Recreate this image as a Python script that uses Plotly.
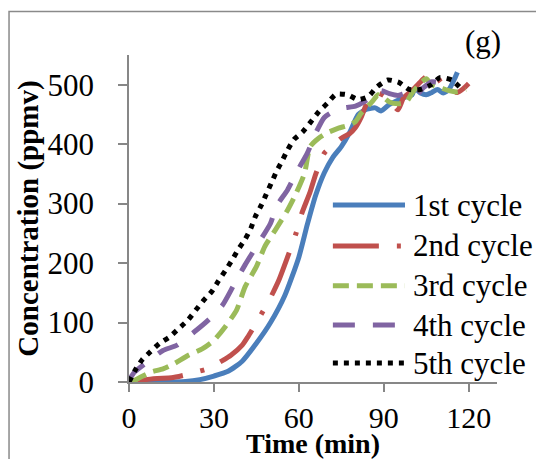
import plotly.graph_objects as go

# ---- data ----
t1 = [3, 10, 20, 25, 30, 35, 40, 45, 50, 55, 60, 63, 66, 69, 72, 75, 78, 81, 84, 87, 89, 92, 95, 98, 100, 101, 103, 105, 107, 109, 111, 113, 115, 116]
c1 = [0, 0, 1, 4, 10, 18, 35, 65, 100, 145, 210, 265, 315, 352, 378, 396, 420, 450, 459, 461, 456, 467, 474, 480, 483, 494, 486, 483, 487, 492, 486, 492, 510, 521]

t2 = [3, 6, 10, 15, 20, 23, 27, 30, 33, 36, 40, 42, 46, 50, 53, 56, 59, 61, 64, 66, 69, 72, 75, 78, 80, 82, 84, 86, 88, 90, 92, 95, 97, 100, 102, 104, 106, 108, 110, 112, 114, 116, 118, 120]
c2 = [0, 4, 6, 7, 12, 16, 21, 28, 36, 45, 62, 76, 108, 142, 172, 210, 250, 283, 320, 350, 385, 398, 410, 418, 428, 445, 468, 476, 486, 482, 474, 458, 478, 490, 500, 510, 517, 521, 505, 495, 490, 487, 493, 502]

t3 = [1, 4, 8, 12, 16, 21, 26, 30, 34, 38, 41, 45, 48, 52, 56, 59, 62, 64, 67, 70, 74, 77, 80, 82, 86, 88, 90, 92, 95, 98, 100, 103, 105, 107, 110, 113, 116, 119]
c3 = [0, 8, 17, 22, 31, 45, 56, 70, 93, 121, 160, 194, 228, 258, 289, 317, 351, 396, 410, 419, 427, 431, 438, 452, 472, 483, 478, 471, 468, 471, 486, 503, 510, 500, 495, 490, 488, 492]

t4 = [0, 2, 8, 12, 17, 23, 28, 33, 37, 41, 45, 50, 52, 56, 59, 63, 66, 69, 73, 76, 80, 83, 87, 89, 92, 95, 98, 101, 104, 107, 110, 114]
c4 = [3, 17, 39, 53, 62, 84, 104, 129, 163, 197, 228, 267, 295, 323, 351, 385, 419, 445, 457, 461, 464, 471, 486, 490, 485, 482, 486, 480, 495, 505, 503, 498]

t5 = [0, 2.2, 4.6, 7.6, 10.8, 14.4, 17.6, 20.8, 23.6, 26.5, 29.2, 31.6, 34, 36.4, 38.6, 41, 43, 44.6, 46.7, 48.5, 50.3, 52.1, 54.1, 56, 58.3, 61.4, 64.3, 67.1, 70.1, 73.1, 77.3, 80.9, 84.5, 87.5, 91.4, 95.3, 99, 102.8, 106.8, 109.8, 114, 117.2]
c5 = [0, 20, 37, 51, 65, 76, 90, 104, 121, 138, 152, 170, 187, 205, 223, 240, 258, 278, 297, 316, 335, 354, 372, 390, 408, 421, 438, 455, 469, 484, 483, 475, 480, 496, 508, 504, 492, 492, 500, 512, 508, 494]

names = ["1st cycle", "2nd cycle", "3rd cycle", "4th cycle", "5th cycle"]
colors = ["#4A7EBB", "#C0504D", "#9BBB59", "#8064A2", "#000000"]
dashes = ["solid", "46px,18px,4px,18px", "16px,8px", "22px,18px", "5px,6px"]
widths = [5, 5, 5, 5, 5]
x_ticks = [0, 30, 60, 90, 120]
y_ticks = [0, 100, 200, 300, 400, 500]

series = [(t1, c1), (t2, c2), (t3, c3), (t4, c4), (t5, c5)]

FONT = "Liberation Serif, Times New Roman, serif"
AX = "#878787"

fig = go.Figure()
for (tx, cy), n, col, d, w in zip(series, names, colors, dashes, widths):
    fig.add_trace(go.Scatter(x=tx, y=cy, mode="lines", name=n,
                             line=dict(color=col, dash=d, width=w, shape="spline", smoothing=0.6),
                             showlegend=False))

# manual legend (long symbol lines like the original)
leg_y = [0.541, 0.416, 0.294, 0.174, 0.058]
for n, col, d, w, yy in zip(names, colors, dashes, widths, leg_y):
    fig.add_shape(type="line", xref="paper", yref="paper", x0=0.554, x1=0.75, y0=yy, y1=yy,
                  line=dict(color=col, dash=d, width=w))
    fig.add_annotation(text=n, xref="paper", yref="paper", x=0.765, y=yy, xanchor="left",
                       yanchor="middle", showarrow=False, font=dict(family=FONT, size=31, color="black"))

# panel label
fig.add_annotation(text="(g)", xref="paper", yref="paper", x=0.962, y=1.042, xanchor="center",
                   yanchor="middle", showarrow=False, font=dict(family=FONT, size=31, color="black"))

# outer frame of the chart area
fig.add_shape(type="rect", xref="paper", yref="paper", x0=-0.326, x1=1.5, y0=-0.5, y1=1.133,
              line=dict(color="#8a8a8a", width=1.5), fillcolor="rgba(0,0,0,0)", layer="below")

fig.update_layout(
    width=536, height=459,
    margin=dict(l=129, r=39, t=55, b=77),
    paper_bgcolor="white", plot_bgcolor="white",
    font=dict(family=FONT, color="black"),
    showlegend=False,
)
fig.update_xaxes(range=[0, 130], tickvals=x_ticks, ticks="outside", ticklen=8, tickwidth=1.5,
                 tickcolor=AX, showline=True, linecolor=AX, linewidth=1.5, showgrid=False,
                 zeroline=False, automargin=False,
                 tickfont=dict(family=FONT, size=30, color="black"),
                 title=dict(text="<b>Time (min)</b>", font=dict(family=FONT, size=28, color="black"),
                            standoff=5))
fig.update_yaxes(range=[0, 550], tickvals=y_ticks, ticks="outside", ticklen=9, tickwidth=1.5,
                 tickcolor=AX, showline=True, linecolor=AX, linewidth=1.5, showgrid=False,
                 zeroline=False, automargin=False, ticklabelstandoff=18,
                 tickfont=dict(family=FONT, size=31, color="black"),
                 title=dict(text="<b>Concentration (ppmv)</b>", font=dict(family=FONT, size=29, color="black"),
                            standoff=0))

fig.write_html("out.html")
